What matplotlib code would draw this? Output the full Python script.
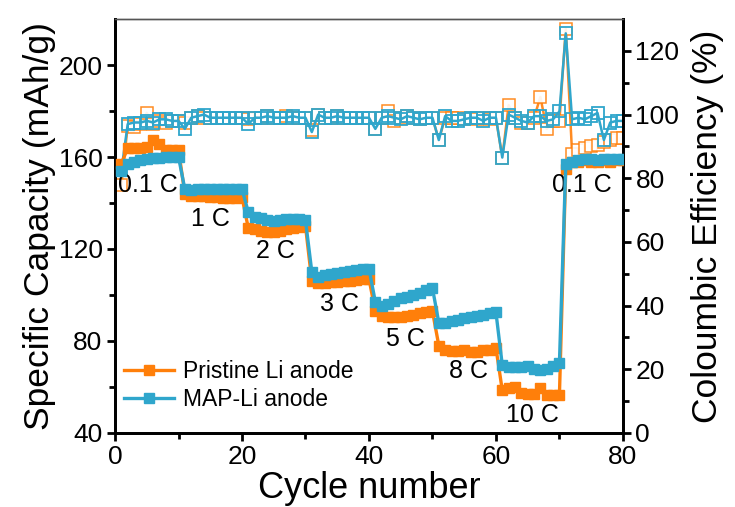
import matplotlib.pyplot as plt
import numpy as np

plt.rcParams['font.family'] = ['Liberation Sans', 'DejaVu Sans']

cycles = np.arange(1, 81)

# specific capacity (mAh/g)
pristine_cap = [157, 164, 164, 164, 164.5, 167.5, 165.5, 163, 163, 163,
                144, 143, 143, 143, 142.5, 142.5, 142, 142, 142, 142.5,
                129, 128.5, 128, 127.5, 127.5, 128, 128.5, 129, 129.5, 130,
                106, 105, 105, 105.5, 105.5, 106, 106, 106.5, 107, 107,
                93, 91, 90.5, 90.5, 90.5, 91, 91.5, 92, 92.5, 93,
                78, 76, 75.5, 75.5, 76, 75, 75, 76, 76, 77,
                58.5, 59.5, 60, 57.5, 57, 57, 59.5, 56.5, 56.5, 56.5,
                155, 158, 158, 158.5, 158, 158, 158.5, 158, 158.5, 158.5]
map_cap = [154, 157, 158, 158.5, 159, 159.5, 159.5, 160, 160, 160,
           146, 145.5, 146, 146, 146, 146, 146, 146, 146, 146,
           136, 134, 133.5, 132.5, 132, 132.5, 133, 133, 133, 132.5,
           110, 108, 108.5, 109, 109.5, 110, 110.5, 111, 111.5, 111.5,
           97, 95, 96, 97.5, 98.5, 99, 100, 101, 102, 103,
           88, 88, 88.5, 89, 90, 90.5, 91, 91.5, 92, 92.5,
           69.5, 68.5, 68.5, 68.5, 69, 68, 67.5, 68, 69, 70.5,
           157, 158, 158.5, 159, 159, 158.5, 159, 159, 159, 159]

# coulombic efficiency (%)
pristine_ce = [78, 96.5, 96, 97, 100.5, 97, 98, 97.5, 98, 98,
               97.5, 99, 99.5, 99, 99, 99, 99, 99, 99, 99,
               98.5, 99, 99, 99.5, 99, 99, 99.5, 99, 99, 99,
               95, 100, 99, 99, 99.5, 99, 99, 99, 99, 99,
               95.5, 99, 101, 98, 99, 99.5, 99, 98.5, 99, 99,
               92, 99, 99, 99, 98.5, 99, 98.5, 99, 98.5, 99,
               86.5, 103, 99, 97.5, 97.5, 99, 105.5, 95.5, 98, 98,
               127, 87.5, 89, 89.5, 90, 90.5, 91.5, 92, 92.5, 92.5]
map_ce = [82.5, 97, 97.5, 97.5, 98, 97.5, 98.5, 98.5, 98, 98,
          95.5, 99, 99.5, 100, 99, 99, 99, 99, 99, 99,
          97, 99, 99, 99.5, 99, 99, 99, 99.5, 99, 99,
          94.5, 100, 99, 99, 99.5, 99, 99, 99, 99, 99,
          95.5, 99, 99.5, 99, 98.5, 99.5, 99, 98.5, 99, 99,
          92, 99.5, 98, 98, 98.5, 99, 99, 98, 99, 99,
          86.5, 100, 99, 98, 97.5, 99.5, 99.5, 98, 98.5, 101,
          125.5, 98.5, 99, 98.5, 99.5, 100.5, 92, 97.5, 98, 98]

rate_labels = ['0.1 C', '1 C', '2 C', '3 C', '5 C', '8 C', '10 C', '0.1 C']
label_x = [5.2, 15, 25.2, 35.4, 45.7, 55.6, 65.8, 73.5]
label_y = [148, 133, 119, 96, 81, 67, 48, 148]

orange = '#FF7F0A'
blue = '#2FA6CC'

fig = plt.figure(figsize=(7.35, 5.07), dpi=100)
ax = fig.add_axes([0.1565, 0.146, 0.691, 0.8165])
ax2 = ax.twinx()

ax.plot(cycles, pristine_cap, '-s', color=orange, lw=2.4, ms=6.5, label='Pristine Li anode', zorder=3)
ax.plot(cycles, map_cap, '-s', color=blue, lw=2.4, ms=6.5, label='MAP-Li anode', zorder=4)

ax2.plot(cycles, pristine_ce, '-s', color=orange, lw=1.8, ms=8, mfc='white', mec=orange, mew=1.1, alpha=0.9)
ax2.plot(cycles, map_ce, '-s', color=blue, lw=1.8, ms=8, mfc='none', mec=blue, mew=1.3)

for t, x, y in zip(rate_labels, label_x, label_y):
    ax.text(x, y, t, fontsize=18, ha='center', va='center')

ax.set_xlim(0, 80)
ax.set_ylim(40, 220)
ax2.set_ylim(0, 130)
ax.set_xticks([0, 20, 40, 60, 80])
ax.set_xticks([10, 30, 50, 70], minor=True)
ax.set_yticks([40, 80, 120, 160, 200])
ax.set_yticks([60, 100, 140, 180], minor=True)
ax2.set_yticks([0, 20, 40, 60, 80, 100, 120])
ax2.set_yticks([10, 30, 50, 70, 90, 110], minor=True)

ax.set_xlabel('Cycle number', fontsize=26, labelpad=1)
ax.set_ylabel('Specific Capacity (mAh/g)', fontsize=25.5, labelpad=2)
ax2.set_ylabel('Coloumbic Efficiency (%)', fontsize=25.5, labelpad=8)

for a in (ax, ax2):
    a.tick_params(which='major', direction='out', length=6, width=2, labelsize=19, pad=3)
    a.tick_params(which='minor', direction='out', length=4, width=2)
    for s in ('left', 'right', 'bottom'):
        a.spines[s].set_linewidth(2)
    a.spines['top'].set_linewidth(1)
    a.spines['top'].set_color('#555555')
ax.tick_params(axis='y', right=False)
ax.set_zorder(ax2.get_zorder() + 1)
ax.patch.set_visible(False)

ax.legend(loc='lower left', bbox_to_anchor=(-0.01, 0.02), frameon=False, fontsize=16.5,
          handlelength=2.2, handletextpad=0.4, labelspacing=0.2, borderaxespad=0.2)

fig.savefig('out.png', dpi=100)
